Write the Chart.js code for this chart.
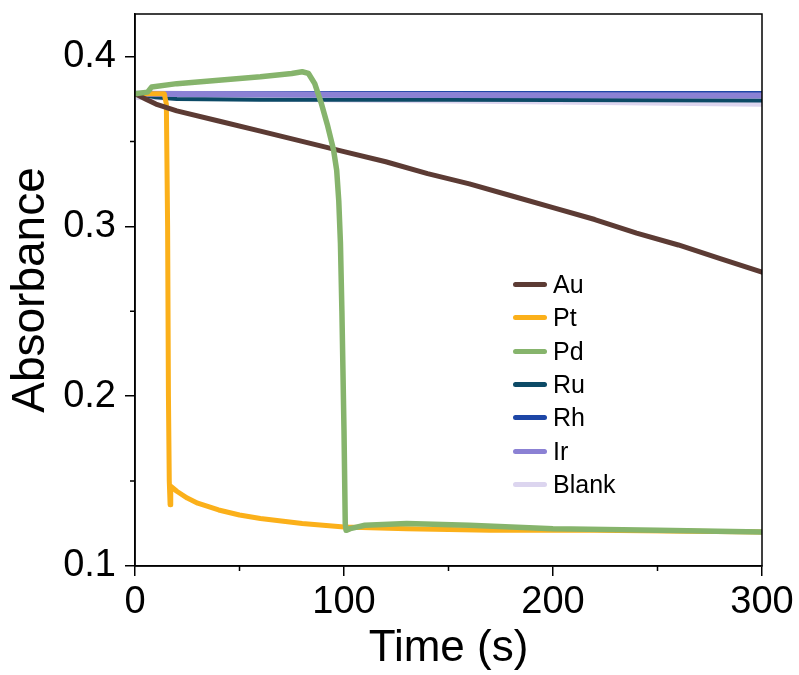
<!DOCTYPE html>
<html>
<head>
<meta charset="utf-8">
<script src="https://cdn.jsdelivr.net/npm/chart.js@4/dist/chart.umd.min.js"></script>
<style>
  body { margin: 0; background: #fff; }
  #wrap { position: relative; width: 799px; height: 675px; }
  #legend { position: absolute; left: 513px; top: 268px; font-family: 'Liberation Sans', Arial, sans-serif; font-size: 25px; color: #000; }
  #legend div { height: 33.3px; display: flex; align-items: center; }
  #legend span.swatch { display: inline-block; width: 34px; height: 5px; border-radius: 3px; margin-right: 6px; }
</style>
</head>
<body>
<div id="wrap">
  <canvas id="chart" width="799" height="675"></canvas>
  <div id="legend"></div>
</div>
<script>
const xTicks = [0, 100, 200, 300];
const xMinor = [50, 150, 250];
const yTicks = [0.1, 0.2, 0.3, 0.4];
const yMinor = [0.15, 0.25, 0.35];

const names = ['Au', 'Pt', 'Pd', 'Ru', 'Rh', 'Ir', 'Blank'];
const colors = ['#5c3b34', '#fbb01a', '#86b46c', '#0c4a66', '#1d46a6', '#8b81d4', '#dcd5ef'];
const widths = [5, 5, 5.5, 4, 3, 6, 7];
const drawOrder = [1, 2, 0, 4, 5, 3, 6];

const auT = [0, 5, 10, 20, 40, 60, 80, 100, 120, 140, 160, 180, 200, 220, 240, 260, 280, 300];
const auY = [0.378, 0.375, 0.372, 0.368, 0.362, 0.356, 0.350, 0.344, 0.338, 0.331, 0.325, 0.318, 0.311, 0.304, 0.296, 0.289, 0.281, 0.273];

const ptT = [0, 14, 15, 15.6, 16, 16.4, 16.8, 17.1, 20, 25, 30, 40, 50, 60, 80, 100, 130, 170, 220, 300];
const ptY = [0.378, 0.378, 0.372, 0.30, 0.20, 0.15, 0.136, 0.147, 0.144, 0.140, 0.137, 0.133, 0.130, 0.128, 0.125, 0.123, 0.122, 0.121, 0.121, 0.120];

const pdT = [0, 6, 8, 20, 40, 60, 75, 80, 83, 86, 89, 92, 95, 96.5, 97.5, 98.3, 99, 100, 100.6, 101, 103, 110, 130, 160, 200, 250, 300];
const pdY = [0.378, 0.379, 0.382, 0.384, 0.386, 0.388, 0.390, 0.391, 0.390, 0.384, 0.373, 0.360, 0.345, 0.333, 0.315, 0.290, 0.250, 0.180, 0.125, 0.121, 0.122, 0.124, 0.125, 0.124, 0.122, 0.121, 0.120];

const ruT = [0, 10, 20, 60, 150, 300];
const ruY = [0.378, 0.376, 0.375, 0.3745, 0.3745, 0.374];

const rhT = [0, 100, 200, 300];
const rhY = [0.3785, 0.3788, 0.3788, 0.3788];

const irT = [0, 100, 200, 300];
const irY = [0.378, 0.3775, 0.3772, 0.3770];

const blankT = [0, 100, 200, 300];
const blankY = [0.3765, 0.375, 0.3738, 0.3725];

const seriesT = [auT, ptT, pdT, ruT, rhT, irT, blankT];
const seriesY = [auY, ptY, pdY, ruY, rhY, irY, blankY];

const font = "'Liberation Sans', Arial, sans-serif";

// minor ticks and the closed frame
const framePlugin = {
  id: 'frame',
  afterDraw(chart) {
    const { ctx, chartArea: a, scales: { x, y } } = chart;
    ctx.save();
    ctx.strokeStyle = '#000';
    ctx.lineWidth = 1.5;
    ctx.strokeRect(a.left, a.top, a.right - a.left, a.bottom - a.top);
    ctx.beginPath();
    xMinor.forEach((v) => {
      const px = x.getPixelForValue(v);
      ctx.moveTo(px, a.bottom);
      ctx.lineTo(px, a.bottom + 5);
    });
    yMinor.forEach((v) => {
      const py = y.getPixelForValue(v);
      ctx.moveTo(a.left, py);
      ctx.lineTo(a.left - 5, py);
    });
    ctx.stroke();
    ctx.restore();
  },
};

const datasets = names.map((name, i) => ({
  label: name,
  data: seriesT[i].map((t, k) => ({ x: t, y: seriesY[i][k] })),
  borderColor: colors[i],
  borderWidth: widths[i],
  showLine: true,
  pointRadius: 0,
  tension: 0,
  order: drawOrder[i],
  borderJoinStyle: 'round',
  borderCapStyle: 'round',
}));

new Chart(document.getElementById('chart').getContext('2d'), {
  type: 'scatter',
  data: { datasets },
  options: {
    responsive: false,
    animation: false,
    layout: { padding: { top: 14, right: 37, left: 0, bottom: 0 } },
    plugins: { legend: { display: false }, tooltip: { enabled: false } },
    scales: {
      x: {
        type: 'linear',
        min: 0,
        max: 300,
        afterFit: (s) => { s.height = 109; s.paddingLeft = 0; s.paddingRight = 0; },
        afterBuildTicks: (s) => { s.ticks = xTicks.map((v) => ({ value: v })); },
        ticks: { font: { family: font, size: 38 }, color: '#000', padding: 4, callback: (v) => String(v) },
        grid: { drawOnChartArea: false, drawTicks: true, tickLength: 10, color: '#000', lineWidth: 1.5 },
        border: { display: true, color: '#000', width: 1.5 },
        title: { display: true, text: 'Time (s)', font: { family: font, size: 44 }, color: '#000', padding: { top: 0, bottom: 0 } },
      },
      y: {
        type: 'linear',
        min: 0.1,
        max: 0.425,
        afterFit: (s) => { s.width = 135; s.paddingTop = 0; s.paddingBottom = 0; },
        afterBuildTicks: (s) => { s.ticks = yTicks.map((v) => ({ value: v })); },
        ticks: { font: { family: font, size: 38 }, color: '#000', padding: 9, callback: (v) => v.toFixed(1) },
        grid: { drawOnChartArea: false, drawTicks: true, tickLength: 10, color: '#000', lineWidth: 1.5 },
        border: { display: true, color: '#000', width: 1.5 },
        title: { display: true, text: 'Absorbance', font: { family: font, size: 46 }, color: '#000', padding: { top: 4, bottom: 0 } },
      },
    },
  },
  plugins: [framePlugin],
});

document.getElementById('legend').innerHTML = names
  .map((n, i) => `<div><span class="swatch" style="background:${colors[i]}"></span>${n}</div>`)
  .join('');
</script>
</body>
</html>
